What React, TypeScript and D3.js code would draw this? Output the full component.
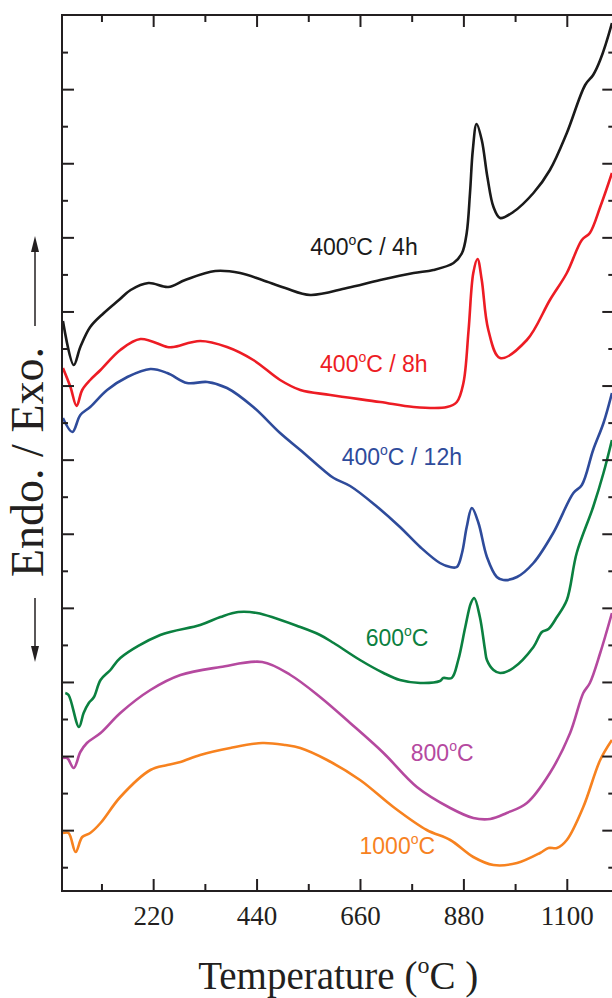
import React from "react";
import * as d3 from "d3";

// ---------- data ----------
type Pt = [number, number]; // [temperature °C, heat flow (a.u.)]

const xMajorTicks = [220, 440, 660, 880, 1100];
const xMinorTicks = [110, 330, 550, 770, 990];
const yTickFirst = 23.3;
const yTickStep = 37.05;
const yTickCount = 23;

const s400_4h: Pt[] = [
  [27, 570], [50, 526], [64, 544], [85, 564], [114, 578], [146, 591], [171, 601],
  [209, 608], [251, 604], [287, 611], [351, 620], [404, 618], [451, 611], [500, 603],
  [553, 596], [631, 603], [702, 611], [773, 618], [815, 621], [858, 628], [876, 638],
  [886, 658], [893, 698], [899, 741], [907, 767], [918, 751], [930, 714], [943, 684],
  [957, 673], [985, 679], [1028, 698], [1063, 721], [1099, 758], [1138, 806], [1155, 816],
  [1170, 831], [1195, 868],
];
const s400_8h: Pt[] = [
  [27, 523], [43, 504], [56, 485], [68, 501], [85, 511], [107, 521], [149, 541],
  [192, 552], [249, 544], [262, 544], [319, 550], [376, 544], [432, 531], [489, 511],
  [532, 501], [596, 496], [702, 489], [773, 484], [844, 484], [865, 489], [879, 508],
  [890, 561], [900, 618], [909, 632], [918, 611], [932, 561], [957, 533], [1014, 551],
  [1063, 591], [1099, 618], [1131, 651], [1148, 658], [1170, 684], [1195, 718],
];
const s400_12h: Pt[] = [
  [27, 473], [47, 459], [64, 476], [85, 484], [121, 501], [164, 514], [213, 522],
  [249, 518], [291, 508], [334, 509], [376, 503], [432, 484], [489, 458], [532, 441],
  [581, 421], [603, 413], [638, 405], [691, 386], [744, 364], [787, 344], [829, 328],
  [851, 324], [865, 324], [876, 338], [886, 364], [897, 383], [911, 368], [929, 334],
  [950, 314], [964, 311], [993, 314], [1028, 328], [1070, 358], [1113, 398], [1131, 406],
  [1155, 441], [1177, 468], [1195, 498],
];
const s600: Pt[] = [
  [32, 198], [39, 196], [61, 164], [71, 178], [82, 188], [93, 194], [107, 211],
  [128, 221], [149, 233], [234, 256], [319, 266], [362, 274], [400, 279], [440, 278],
  [532, 264], [574, 256], [603, 248], [659, 231], [709, 218], [744, 211], [787, 208],
  [829, 210], [836, 213], [854, 213], [868, 231], [883, 264], [895, 288], [902, 293],
  [914, 274], [925, 241], [929, 231], [943, 221], [957, 218], [985, 223], [1028, 244],
  [1046, 259], [1060, 262], [1078, 274], [1099, 291], [1120, 338], [1155, 384],
  [1177, 418], [1195, 451],
];
const s800: Pt[] = [
  [27, 133], [36, 133], [50, 123], [64, 139], [78, 148], [107, 158], [149, 178],
  [213, 201], [277, 216], [362, 224], [451, 229], [511, 216], [574, 194], [638, 168],
  [709, 138], [780, 104], [851, 83], [900, 73], [936, 72], [971, 78], [1014, 88],
  [1063, 118], [1106, 158], [1134, 198], [1148, 208], [1170, 238], [1195, 278],
];
const s1000: Pt[] = [
  [27, 58], [39, 58], [54, 39], [68, 54], [85, 58], [107, 68], [149, 94],
  [213, 121], [249, 126], [277, 129], [319, 136], [383, 143], [451, 148], [500, 146],
  [532, 143], [589, 131], [659, 111], [730, 84], [801, 61], [851, 51], [900, 34],
  [943, 26], [993, 28], [1042, 38], [1060, 43], [1078, 43], [1099, 51], [1134, 84],
  [1170, 131], [1195, 151],
];

const series = [
  { name: "400", sub: "C / 4h", data: s400_4h, color: "#1a1a1a", label: [553, 636] },
  { name: "400", sub: "C / 8h", data: s400_8h, color: "#ed1c24", label: [574, 519] },
  { name: "400", sub: "C / 12h", data: s400_12h, color: "#2e4b9b", label: [620, 426] },
  { name: "600", sub: "C", data: s600, color: "#0b8040", label: [671, 245] },
  { name: "800", sub: "C", data: s800, color: "#b5499f", label: [767, 130] },
  { name: "1000", sub: "C", data: s1000, color: "#f7821f", label: [658, 37] },
];

// ---------- layout ----------
const W = 612;
const H = 998;
const left = 62;
const right = 614.3;
const top = 15;
const bottom = 891;

export default function App() {
  const x = d3.scaleLinear().domain([25, 1200]).range([left, right]);
  const y = d3.scaleLinear().domain([0, 876]).range([bottom, top]);
  const line = d3
    .line<Pt>()
    .x((d) => x(d[0]))
    .y((d) => y(d[1]))
    .curve(d3.curveCatmullRom.alpha(0.5));

  const yTicks = d3.range(yTickCount).map((i) => yTickFirst + i * yTickStep);
  const axisColor = "#231f20";
  const serif = "'Liberation Serif', 'Times New Roman', serif";
  const sans = "'Liberation Sans', Arial, sans-serif";

  return (
    <svg width={W} height={H} style={{ position: "absolute", left: 0, top: 0 }}>
      <rect width={W} height={H} fill="#fff" />
      <defs>
        <clipPath id="plot">
          <rect x={left} y={top} width={right - left} height={bottom - top} />
        </clipPath>
      </defs>

      {/* curves */}
      <g clipPath="url(#plot)">
        {series.map((s, i) => (
          <path key={i} d={line(s.data) || ""} fill="none" stroke={s.color} strokeWidth={2.6} strokeLinejoin="round" />
        ))}
      </g>

      {/* frame */}
      <g stroke={axisColor} strokeWidth={2} fill="none">
        <line x1={left} x2={left} y1={top - 1} y2={bottom + 1} />
        <line x1={right} x2={right} y1={top - 1} y2={bottom + 1} />
        <line x1={left - 1} x2={right + 1} y1={top} y2={top} />
        <line x1={left - 1} x2={right + 1} y1={bottom} y2={bottom} />
        {xMajorTicks.map((t) => (
          <g key={"M" + t}>
            <line x1={x(t)} x2={x(t)} y1={bottom} y2={bottom - 12} />
            <line x1={x(t)} x2={x(t)} y1={top} y2={top + 12} />
          </g>
        ))}
        {xMinorTicks.map((t) => (
          <g key={"m" + t}>
            <line x1={x(t)} x2={x(t)} y1={bottom} y2={bottom - 7} />
            <line x1={x(t)} x2={x(t)} y1={top} y2={top + 7} />
          </g>
        ))}
        {yTicks.map((t, i) => {
          const len = i % 2 === 1 ? 12 : 6;
          return (
            <g key={"y" + i}>
              <line x1={left} x2={left + len} y1={y(t)} y2={y(t)} />
              <line x1={right} x2={right - len} y1={y(t)} y2={y(t)} />
            </g>
          );
        })}
      </g>

      {/* x tick labels */}
      {xMajorTicks.map((t) => (
        <text key={"l" + t} x={x(t)} y={925} textAnchor="middle" fontFamily={serif} fontSize={27} fill="#231f20">
          {t}
        </text>
      ))}

      {/* x title */}
      <text x={(left + right) / 2} y={989} textAnchor="middle" fontFamily={serif} fontSize={39} fill="#231f20">
        Temperature (<tspan fontSize={24} dy={-16}>o</tspan>
        <tspan dy={16}>C )</tspan>
      </text>

      {/* y title with arrows */}
      <g fill="#231f20" stroke="#231f20">
        <line x1={35} x2={35} y1={326} y2={248} strokeWidth={1.5} />
        <path d="M35,236 L31,252 L39,252 Z" stroke="none" />
        <line x1={35} x2={35} y1={598} y2={650} strokeWidth={1.5} />
        <path d="M35,662 L31,646 L39,646 Z" stroke="none" />
      </g>
      <text
        transform="translate(43,462) rotate(-90)"
        textAnchor="middle"
        fontFamily={serif}
        fontSize={46}
        fill="#231f20"
      >
        Endo. / Exo.
      </text>

      {/* series labels */}
      {series.map((s, i) => (
        <text key={"s" + i} x={x(s.label[0])} y={y(s.label[1])} fontFamily={sans} fontSize={23} fill={s.color}>
          {s.name}
          <tspan fontSize={14} dy={-10}>o</tspan>
          <tspan dy={10}>{s.sub}</tspan>
        </text>
      ))}
    </svg>
  );
}
